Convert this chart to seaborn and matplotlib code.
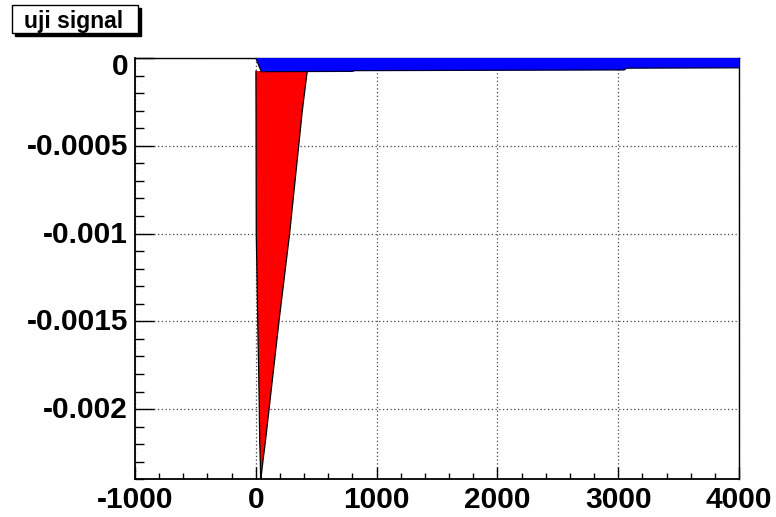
import numpy as np
import pandas as pd
import seaborn as sns
import matplotlib
matplotlib.use("Agg")
import matplotlib.pyplot as plt
from matplotlib.patches import Rectangle
from matplotlib.ticker import MultipleLocator, FixedLocator
import matplotlib.transforms as mtransforms

# ---------------- data ----------------
title_text = "uji signal"

# red spike: boundary of the filled region (x at each y level)
red_y = [-0.000074, -0.0003, -0.001, -0.0015, -0.00195, -0.00217, -0.00232, -0.0024]
red_left = [1, 2, 4, 16, 28, 32, 38, 40]
red_right = [426, 385, 280, 192, 118, 82, 55, 42]

# blue band: lower boundary of the band (upper boundary is 0)
blue_x = [0, 45, 800, 820, 3050, 3070, 4000]
blue_low = [0.0, -0.000078, -0.000076, -0.000072, -0.000068, -0.000058, -0.000056]

x_ticks = [-1000, 0, 1000, 2000, 3000, 4000]
x_tick_labels = ["-1000", "0", "1000", "2000", "3000", "4000"]
y_ticks = [0, -0.0005, -0.001, -0.0015, -0.002]
y_tick_labels = ["0", "-0.0005", "-0.001", "-0.0015", "-0.002"]

# ---------------- style ----------------
sns.set_theme(style="white")
plt.rcParams["font.family"] = ["Liberation Sans", "DejaVu Sans"]
plt.rcParams["font.weight"] = "bold"

W, H = 776, 517
fig = plt.figure(figsize=(W / 100, H / 100), dpi=100)
ax = fig.add_axes([135 / W, 1 - 479.3 / H, (739 - 135) / W, (479.3 - 58) / H])

# red filled spike
red_df = pd.DataFrame({"y": red_y, "left": red_left, "right": red_right})
ax.fill_betweenx(red_df["y"], red_df["left"], red_df["right"],
                 facecolor="#ff0000", edgecolor="none", zorder=3)
outline = pd.DataFrame({
    "x": list(red_df["left"]) + list(red_df["right"][::-1]),
    "y": list(red_df["y"]) + list(red_df["y"][::-1]),
})
sns.lineplot(data=outline, x="x", y="y", sort=False, estimator=None,
             color="black", linewidth=0.9, ax=ax, zorder=4)

# blue band
blue_df = pd.DataFrame({"x": blue_x, "low": blue_low})
ax.fill_between(blue_df["x"], blue_df["low"], 0,
                facecolor="#0000ff", edgecolor="none", zorder=5)
sns.lineplot(data=blue_df, x="x", y="low", sort=False, estimator=None,
             color="#000033", linewidth=0.9, ax=ax, zorder=6)

ax.set_xlim(-1000, 4000)
ax.set_ylim(-0.0024, 0)
ax.set_xlabel("")
ax.set_ylabel("")

ax.xaxis.set_major_locator(FixedLocator(x_ticks))
ax.set_xticklabels(x_tick_labels)
ax.xaxis.set_minor_locator(MultipleLocator(200))
ax.yaxis.set_major_locator(FixedLocator(y_ticks))
ax.set_yticklabels(y_tick_labels)
ax.yaxis.set_minor_locator(MultipleLocator(0.0001))

ax.tick_params(axis="x", which="major", direction="in", length=8.6, width=1.0,
               color="black", labelsize=21.5, pad=5, top=False, bottom=True)
ax.tick_params(axis="x", which="minor", direction="in", length=4.3, width=1.0,
               color="black", top=False, bottom=True)
ax.tick_params(axis="y", which="major", direction="in", length=13.7, width=1.0,
               color="black", labelsize=21.5, pad=5, right=False, left=True)
ax.tick_params(axis="y", which="minor", direction="in", length=6.5, width=1.0,
               color="black", right=False, left=True)
for lab in ax.get_xticklabels() + ax.get_yticklabels():
    lab.set_fontweight("bold")
    lab.set_color("black")

# ROOT-like label placement: top "0" pushed down, others slightly raised
ylabs = ax.get_yticklabels()
for i, lab in enumerate(ylabs):
    dy = -6 if i == 0 else 2
    off = mtransforms.ScaledTranslation(0, dy / 100, fig.dpi_scale_trans)
    lab.set_transform(lab.get_transform() + off)

ax.grid(True, which="major", color="#444444", linestyle=(0, (1, 2)), linewidth=0.9)
ax.set_axisbelow(True)
for s in ax.spines.values():
    s.set_visible(True)
    s.set_color("black")
    s.set_linewidth(1.0)
ax.spines["bottom"].set_linewidth(1.3)
ax.spines["left"].set_linewidth(1.3)

# title box with shadow (ROOT style)
fig.patches.append(Rectangle((15 / W, 1 - 36 / H), 126 / W, 27.7 / H,
                             transform=fig.transFigure, facecolor="black",
                             edgecolor="black", zorder=1))
fig.patches.append(Rectangle((12 / W, 1 - 33 / H), 126 / W, 27.7 / H,
                             transform=fig.transFigure, facecolor="white",
                             edgecolor="black", linewidth=1.0, zorder=2))
fig.text(74 / W, 1 - 27.7 / H, title_text, ha="center", va="baseline",
         fontsize=16.5, fontweight="bold", color="black", zorder=3)

fig.savefig("out.png", dpi=100, facecolor="white")
